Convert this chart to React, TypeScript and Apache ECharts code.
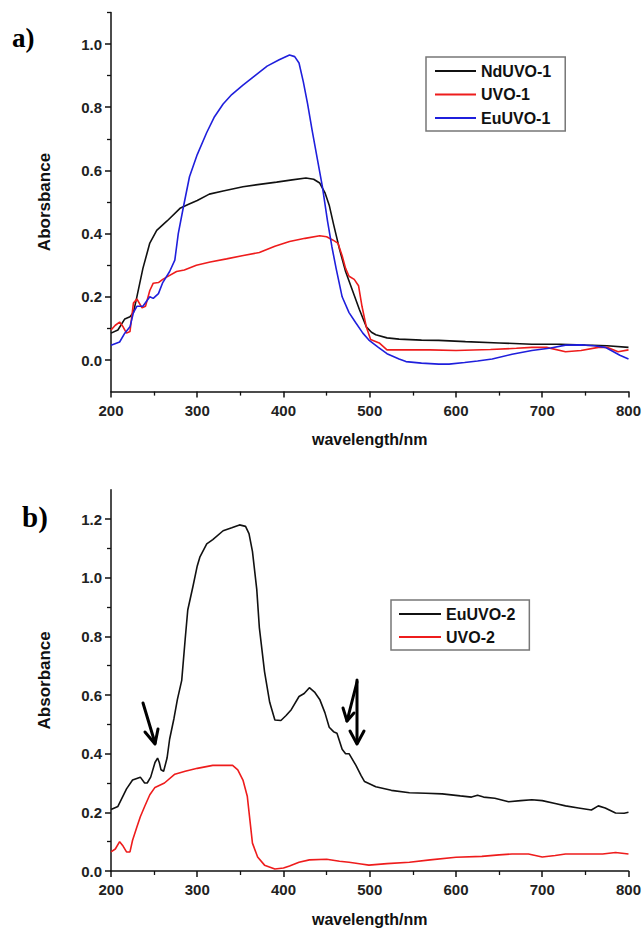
import React, { useEffect, useRef } from "react";
import * as echarts from "echarts";

const FONT = "'Liberation Sans', Arial, sans-serif";
const SERIF = "'Liberation Serif', 'Times New Roman', serif";

// ---- chart a) ----
const legendA = ["NdUVO-1", "UVO-1", "EuUVO-1"];
const yMajorA = [0, 0.2, 0.4, 0.6, 0.8, 1.0];
const yMinorA = [0.1, 0.3, 0.5, 0.7, 0.9, 1.1];

const ndUVO1: [number, number][] = [
  [200, 0.085], [208, 0.095], [216, 0.13], [222, 0.137], [226, 0.15], [230, 0.2], [237, 0.29],
  [245, 0.37], [253, 0.41], [265, 0.44], [280, 0.48], [290, 0.493], [300, 0.505], [314, 0.525],
  [330, 0.535], [353, 0.548], [370, 0.555], [392, 0.563], [410, 0.57], [426, 0.576], [435, 0.572],
  [442, 0.56], [448, 0.53], [453, 0.49], [458, 0.43], [465, 0.35], [472, 0.28], [480, 0.22],
  [488, 0.16], [496, 0.105], [502, 0.088], [507, 0.08], [520, 0.07], [534, 0.066], [560, 0.063],
  [580, 0.062], [611, 0.058], [650, 0.054], [688, 0.05], [720, 0.05], [750, 0.047], [775, 0.045],
  [800, 0.04],
];

const uvo1: [number, number][] = [
  [200, 0.095], [205, 0.11], [210, 0.12], [214, 0.105], [218, 0.085], [222, 0.09], [226, 0.18],
  [230, 0.193], [236, 0.165], [240, 0.17], [245, 0.22], [249, 0.243], [255, 0.245], [260, 0.255],
  [265, 0.263], [276, 0.28], [285, 0.285], [299, 0.3], [315, 0.31], [334, 0.32], [352, 0.33],
  [372, 0.34], [390, 0.36], [407, 0.375], [425, 0.385], [442, 0.393], [450, 0.39], [457, 0.38],
  [463, 0.37], [468, 0.33], [472, 0.29], [476, 0.265], [482, 0.255], [487, 0.235], [491, 0.17],
  [496, 0.105], [501, 0.065], [511, 0.054], [520, 0.032], [540, 0.032], [570, 0.032], [600, 0.03],
  [640, 0.033], [670, 0.037], [688, 0.04], [705, 0.04], [727, 0.026], [745, 0.03], [765, 0.04],
  [775, 0.04], [788, 0.026], [800, 0.032],
];

const euUVO1: [number, number][] = [
  [200, 0.047], [210, 0.057], [216, 0.085], [222, 0.105], [226, 0.15], [230, 0.17], [237, 0.17],
  [245, 0.2], [249, 0.195], [255, 0.21], [260, 0.245], [268, 0.28], [274, 0.316], [278, 0.4],
  [284, 0.485], [291, 0.58], [300, 0.65], [311, 0.72], [320, 0.77], [330, 0.81], [340, 0.84],
  [353, 0.87], [367, 0.9], [381, 0.93], [395, 0.95], [407, 0.965], [413, 0.96], [418, 0.94],
  [423, 0.88], [428, 0.81], [433, 0.73], [438, 0.655], [445, 0.55], [451, 0.44], [456, 0.36],
  [461, 0.29], [468, 0.2], [476, 0.15], [484, 0.117], [492, 0.085], [499, 0.063], [510, 0.04],
  [520, 0.02], [534, 0.003], [542, -0.005], [560, -0.01], [580, -0.013], [592, -0.013],
  [610, -0.008], [625, -0.003], [642, 0.003], [665, 0.018], [688, 0.03], [710, 0.038],
  [727, 0.047], [745, 0.048], [760, 0.045], [773, 0.04], [780, 0.03], [790, 0.015], [800, 0.003],
];

// ---- chart b) ----
const legendB = ["EuUVO-2", "UVO-2"];
const yMajorB = [0, 0.2, 0.4, 0.6, 0.8, 1.0, 1.2];
const yMinorB = [0.1, 0.3, 0.5, 0.7, 0.9, 1.1];

const euUVO2: [number, number][] = [
  [200, 0.21], [208, 0.22], [213, 0.25], [218, 0.28], [225, 0.31], [234, 0.32], [239, 0.3],
  [242, 0.3], [246, 0.32], [251, 0.37], [254, 0.385], [256, 0.37], [258, 0.345], [261, 0.34],
  [265, 0.385], [268, 0.45], [273, 0.52], [277, 0.585], [282, 0.65], [286, 0.79], [289, 0.89],
  [295, 0.97], [300, 1.04], [303, 1.07], [311, 1.115], [318, 1.13], [330, 1.16], [340, 1.17],
  [349, 1.18], [356, 1.175], [360, 1.15], [364, 1.09], [369, 0.96], [372, 0.83], [378, 0.68],
  [384, 0.575], [390, 0.515], [397, 0.513], [403, 0.53], [409, 0.55], [418, 0.595], [424, 0.605],
  [430, 0.625], [436, 0.61], [442, 0.585], [448, 0.54], [453, 0.49], [458, 0.475], [462, 0.47],
  [468, 0.415], [472, 0.4], [476, 0.4], [484, 0.36], [490, 0.325], [494, 0.305], [507, 0.287],
  [525, 0.275], [546, 0.267], [565, 0.265], [584, 0.263], [605, 0.256], [618, 0.252],
  [625, 0.258], [632, 0.252], [645, 0.248], [661, 0.236], [675, 0.24], [688, 0.243], [700, 0.24],
  [715, 0.23], [727, 0.222], [742, 0.215], [757, 0.208], [765, 0.222], [773, 0.215], [785, 0.198],
  [795, 0.197], [800, 0.2],
];

const uvo2: [number, number][] = [
  [200, 0.065], [205, 0.075], [210, 0.1], [214, 0.085], [218, 0.065], [222, 0.065], [225, 0.105],
  [230, 0.15], [234, 0.185], [239, 0.22], [245, 0.26], [251, 0.285], [262, 0.3], [274, 0.33],
  [286, 0.34], [300, 0.35], [318, 0.36], [330, 0.36], [341, 0.36], [347, 0.345], [353, 0.31],
  [358, 0.255], [361, 0.175], [364, 0.095], [370, 0.048], [378, 0.02], [390, 0.007], [400, 0.01],
  [407, 0.017], [418, 0.03], [430, 0.038], [450, 0.04], [465, 0.033], [476, 0.03], [490, 0.024],
  [499, 0.02], [520, 0.025], [546, 0.03], [570, 0.038], [600, 0.047], [630, 0.05], [650, 0.055],
  [665, 0.058], [684, 0.058], [700, 0.048], [715, 0.053], [727, 0.058], [750, 0.058], [770, 0.058],
  [785, 0.063], [800, 0.058],
];

const xTitle = "wavelength/nm";
const yTitleA = "Aborsbance";
const yTitleB = "Absorbance";

const BLACK = "#111111";
const RED = "#ee1c1c";
const BLUE = "#1f1fdc";

function xAxis(gi: number) {
  return {
    type: "value",
    gridIndex: gi,
    min: 200,
    max: 800,
    interval: 100,
    name: xTitle,
    nameLocation: "middle",
    nameGap: 40,
    nameTextStyle: { fontFamily: FONT, fontWeight: "bold", fontSize: 16, color: "#111" },
    axisLine: { onZero: false, lineStyle: { color: "#111", width: 1.5 } },
    axisTick: { length: 6, lineStyle: { color: "#111", width: 1.5 } },
    minorTick: { show: true, splitNumber: 2, length: 4, lineStyle: { color: "#111", width: 1.3 } },
    axisLabel: { fontFamily: FONT, fontWeight: "bold", fontSize: 15, color: "#222", margin: 11 },
    splitLine: { show: false },
    minorSplitLine: { show: false },
  };
}

function yMajor(gi: number, min: number, max: number, vals: number[], title: string) {
  return {
    type: "value",
    gridIndex: gi,
    position: "left",
    min,
    max,
    name: title,
    nameLocation: "middle",
    nameGap: 58,
    nameTextStyle: { fontFamily: FONT, fontWeight: "bold", fontSize: 17, color: "#111" },
    axisLine: { show: true, onZero: false, lineStyle: { color: "#111", width: 1.5 } },
    axisTick: { show: true, customValues: vals, length: 6, lineStyle: { color: "#111", width: 1.5 } },
    axisLabel: {
      customValues: vals,
      formatter: (v: number) => v.toFixed(1),
      fontFamily: FONT,
      fontWeight: "bold",
      fontSize: 15,
      color: "#222",
      margin: 9,
    },
    splitLine: { show: false },
  };
}

function yMinor(gi: number, min: number, max: number, vals: number[]) {
  return {
    type: "value",
    gridIndex: gi,
    position: "left",
    offset: 0,
    min,
    max,
    axisLine: { show: false, onZero: false },
    axisTick: { show: true, customValues: vals, length: 4, lineStyle: { color: "#111", width: 1.3 } },
    axisLabel: { show: false },
    splitLine: { show: false },
  };
}

function line(name: string, data: [number, number][], color: string, xi: number, yi: number) {
  return {
    type: "line",
    name,
    xAxisIndex: xi,
    yAxisIndex: yi,
    data,
    symbol: "none",
    symbolSize: 0,
    showSymbol: false,
    lineStyle: { color, width: 1.6 },
    itemStyle: { color },
    z: 3,
  };
}

const arrowStyle = { stroke: "#000", lineWidth: 3, lineCap: "round", lineJoin: "round", fill: null };

const legendText = { fontFamily: FONT, fontWeight: "bold", fontSize: 16, color: "#111" };

export default function App() {
  const ref = useRef<HTMLDivElement>(null);
  useEffect(() => {
    document.body.style.margin = "0";
    const chart = echarts.init(ref.current!, undefined, { renderer: "svg" });
    const option = {
      animation: false,
      backgroundColor: "#ffffff",
      textStyle: { fontFamily: FONT },
      grid: [
        { left: 111, right: 14, top: 12.4, height: 379.2 },
        { left: 111, right: 14, top: 489.7, height: 381.3 },
      ],
      xAxis: [xAxis(0), xAxis(1)],
      yAxis: [
        yMajor(0, -0.1, 1.1, yMajorA, yTitleA),
        yMinor(0, -0.1, 1.1, yMinorA),
        yMajor(1, 0, 1.3, yMajorB, yTitleB),
        yMinor(1, 0, 1.3, yMinorB),
      ],
      legend: [
        {
          data: legendA,
          orient: "vertical",
          left: 426,
          top: 57,
          padding: [6, 14, 5, 8],
          itemWidth: 41,
          itemHeight: 14,
          itemGap: 7.5,
          borderColor: "#777",
          borderWidth: 1.5,
          backgroundColor: "#fff",
          itemStyle: { opacity: 0 },
          textStyle: legendText,
          selectedMode: false,
        },
        {
          data: legendB,
          orient: "vertical",
          left: 391,
          top: 600,
          padding: [6, 14, 5, 7],
          itemWidth: 42,
          itemHeight: 14,
          itemGap: 7,
          borderColor: "#777",
          borderWidth: 1.5,
          backgroundColor: "#fff",
          itemStyle: { opacity: 0 },
          textStyle: legendText,
          selectedMode: false,
        },
      ],
      series: [
        line("NdUVO-1", ndUVO1, BLACK, 0, 0),
        line("UVO-1", uvo1, RED, 0, 0),
        line("EuUVO-1", euUVO1, BLUE, 0, 0),
        line("EuUVO-2", euUVO2, BLACK, 1, 2),
        line("UVO-2", uvo2, RED, 1, 2),
      ],
      graphic: [
        {
          type: "text",
          left: 12,
          top: 24,
          style: { text: "a)", fontFamily: SERIF, fontWeight: "bold", fontSize: 27, fill: "#000" },
        },
        {
          type: "text",
          left: 22,
          top: 502,
          style: { text: "b)", fontFamily: SERIF, fontWeight: "bold", fontSize: 29, fill: "#000" },
        },
        { type: "line", shape: { x1: 143, y1: 703, x2: 155, y2: 743 }, style: arrowStyle, z: 10 },
        { type: "polyline", shape: { points: [[145, 732], [155, 744], [158, 729]] }, style: arrowStyle, z: 10 },
        { type: "line", shape: { x1: 357, y1: 680, x2: 357, y2: 743 }, style: arrowStyle, z: 10 },
        { type: "polyline", shape: { points: [[350, 731], [357, 744], [364, 731]] }, style: arrowStyle, z: 10 },
        { type: "line", shape: { x1: 357, y1: 682, x2: 347, y2: 721 }, style: arrowStyle, z: 10 },
        { type: "polyline", shape: { points: [[343, 708], [347, 721], [354, 713]] }, style: arrowStyle, z: 10 },
      ],
    };
    chart.setOption(option as any);
    return () => chart.dispose();
  }, []);
  return <div ref={ref} style={{ width: 644, height: 929 }} />;
}
